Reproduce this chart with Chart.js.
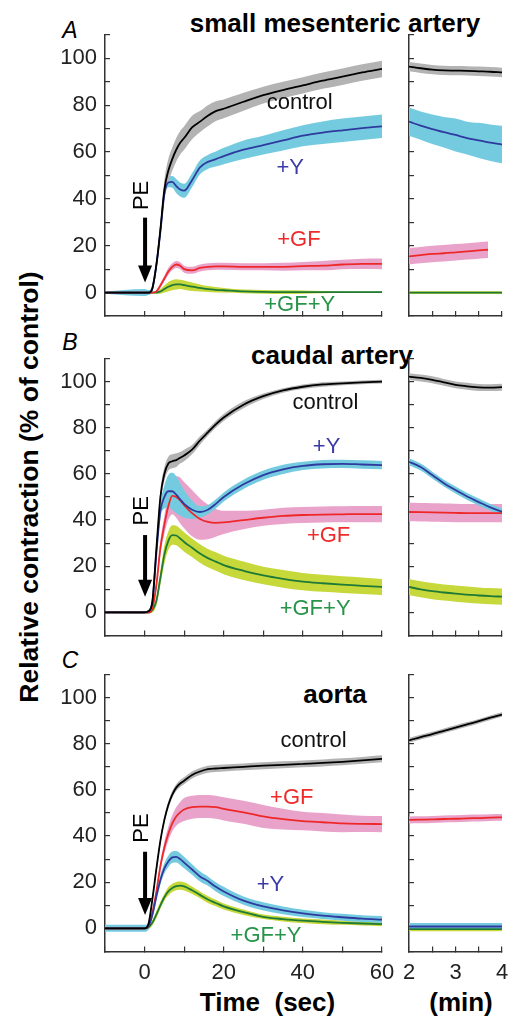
<!DOCTYPE html>
<html lang="en">
<head>
<meta charset="UTF-8">
<title>Relative contraction after PE</title>
<script src="https://cdn.jsdelivr.net/npm/chart.js"></script>
<style>
  body { margin: 0; background: #fff; font-family: "Liberation Sans", Arial, sans-serif; }
  #fig { position: relative; width: 510px; height: 1020px; overflow: hidden; }
  #fig canvas { position: absolute; }
  .txt { position: absolute; white-space: pre; color: #000; line-height: 1; transform: translate(-50%, -50%); }
  .ttl { font-weight: bold; font-size: 26px; }
  .pl { font-style: italic; font-size: 23px; }
</style>
</head>
<body>
<div id="fig">
  <div class="txt ttl" style="left:335px;top:22.5px">small mesenteric artery</div>
  <div class="txt ttl" style="left:332px;top:355px">caudal artery</div>
  <div class="txt ttl" style="left:335px;top:694px">aorta</div>
  <div class="txt pl" style="left:70px;top:30px">A</div>
  <div class="txt pl" style="left:70px;top:341.5px">B</div>
  <div class="txt pl" style="left:70px;top:659.5px">C</div>
  <div class="txt ttl" style="left:28.5px;top:487px;font-size:26.5px;transform:translate(-50%,-50%) rotate(-90deg)">Relative contraction (% of control)</div>
  <div class="txt ttl" style="left:267.5px;top:1001.5px">Time  (sec)</div>
  <div class="txt ttl" style="left:461px;top:1001.5px">(min)</div>

  <canvas id="aL" width="410" height="321" style="left:0;top:15px"></canvas>
  <canvas id="aR" width="140" height="321" style="left:385px;top:15px"></canvas>
  <canvas id="bL" width="410" height="316" style="left:0;top:339px"></canvas>
  <canvas id="bR" width="140" height="316" style="left:385px;top:339px"></canvas>
  <canvas id="cL" width="410" height="346" style="left:0;top:655px"></canvas>
  <canvas id="cR" width="140" height="346" style="left:385px;top:655px"></canvas>
</div>

<script>
// time axes
const tSec = [-10, 0, 1, 2, 3, 4, 5, 6, 7, 8, 9, 10, 12, 14, 16, 18, 20, 25, 30, 35, 40, 45, 50, 55, 60];
const tMin = [2, 2.25, 2.5, 2.75, 3, 3.25, 3.5, 3.75, 4];
const tMinAGF = [2, 2.25, 2.5, 2.75, 3, 3.25, 3.5, 3.7];

// A: small mesenteric artery (mean and SEM, % of control)
const aCtrl = [0, 0, 0, 2, 12, 27, 44, 52, 57, 61, 64, 66, 70.5, 73, 75.5, 77.5, 78.5, 81.5, 84.3, 86.5, 88.5, 90.5, 92.2, 94, 95.5];
const aCtrlSem = [0.3, 0.3, 0.5, 1, 2, 3, 4, 5, 5, 5, 5, 5, 5, 4.5, 4.5, 4.2, 4, 3.8, 3.6, 3.5, 3.5, 3.5, 3.5, 3.5, 3.5];
const aY = [0, 0, 0, 2, 12, 26, 42, 47, 47.3, 45.5, 44, 43.5, 48, 53.5, 55.8, 57, 58.3, 61, 63, 65, 67, 68.3, 69.3, 70.2, 71];
const aYSem = [0.5, 1.5, 1, 1.5, 2, 2, 2, 2, 2.5, 3, 3, 3, 3, 3, 3, 3.2, 3.5, 4, 4, 4.3, 4.5, 4.8, 5, 5, 5];
const aGF = [0, 0, 0, 0, 0.5, 3, 6, 9, 11, 12, 11.5, 10, 9.5, 10.5, 11, 11.2, 11.2, 11, 11, 11, 11.3, 11.5, 12, 12.3, 12.3];
const aGFSem = [0.3, 0.5, 0.3, 0.3, 0.5, 1, 1.2, 1.5, 1.5, 1.5, 1.5, 1.5, 1.5, 1.5, 1.5, 1.5, 1.5, 1.5, 1.5, 1.7, 1.8, 2, 2, 2.2, 2.3];
const aGY = [0, 0, 0, 0, 0, 0.5, 1.5, 2.5, 3.2, 3.5, 3.5, 3.2, 2.5, 2, 1.5, 1.2, 1, 0.5, 0.3, 0.2, 0.2, 0.2, 0.2, 0.2, 0.2];
const aGYSem = [0.3, 0.5, 0.3, 0.3, 0.5, 1, 1.5, 2, 2.2, 2.2, 2, 2, 1.8, 1.5, 1.3, 1.2, 1, 0.8, 0.8, 0.8, 0.7, 0.5, 0.4, 0.3, 0.3];
const aCtrlR = [96.5, 95.8, 95.2, 94.9, 94.8, 94.7, 94.5, 94.3, 94];
const aYR = [73, 71.3, 69.8, 68.5, 67.3, 66, 65, 64, 63.2];
const aYRSem = [6, 6, 6.3, 6.5, 7, 7, 7.5, 7.8, 8];
const aGFR = [15.5, 16, 16.5, 16.8, 17.2, 17.6, 18, 18.3];
const aGYR = [0, 0, 0, 0, 0, 0, 0, 0, 0];

// B: caudal artery
const bCtrl = [0, 0, 0.5, 5, 28, 50, 60, 64.5, 65.5, 66, 67, 68, 70.5, 74.5, 78, 81.5, 84.5, 90, 93.7, 96.2, 97.8, 98.8, 99.3, 99.7, 100];
const bCtrlSem = [0.3, 0.5, 0.5, 1, 2, 3, 3, 3, 3, 3, 2.5, 2.5, 2, 1.8, 1.5, 1.5, 1.5, 1.5, 1.2, 1, 1, 1, 0.8, 0.8, 0.8];
const bY = [0, 0, 0.5, 5, 26, 44, 50, 52.5, 52.5, 51, 49, 47, 44.5, 43.5, 44.5, 47, 50, 55.5, 59.5, 62, 63.5, 64.2, 64.4, 64.1, 63.8];
const bYSem = [0.3, 0.5, 0.5, 1, 2, 3, 5, 7, 8, 8, 7, 6, 4, 2.5, 2, 2, 2, 2, 2, 2, 1.8, 1.8, 1.8, 1.8, 1.8];
const bGF = [0, 0, 0, 2, 12, 28, 38, 46, 50.5, 50, 48.5, 46.5, 43, 40.5, 39.2, 38.8, 39, 40, 41, 41.8, 42.2, 42.4, 42.5, 42.6, 42.6];
const bGFSem = [0.3, 0.5, 0.5, 1, 2, 3, 4, 6, 8, 9, 10, 10, 10, 9, 7.5, 6, 5, 4, 3.5, 3.5, 3.5, 3.5, 3.5, 3.5, 3.5];
const bGY = [0, 0, 0, 1, 5, 15, 25, 31, 33.5, 33.3, 32, 30.5, 28, 25.5, 23.5, 22, 20.5, 18, 16, 14.5, 13.3, 12.6, 12, 11.5, 11];
const bGYSem = [0.3, 0.5, 0.5, 1, 2, 3, 4, 4, 4.2, 4.2, 4.2, 4.2, 4, 4, 4, 4, 4, 4, 3.8, 3.8, 3.7, 3.7, 3.6, 3.6, 3.5];
const bCtrlR = [102.2, 101.6, 100.8, 99.7, 98.6, 98, 97.5, 97.4, 97.6];
const bYR = [65.3, 63, 59.5, 56, 53, 50.2, 47.8, 45.5, 43.6];
const bGFR = [43.5, 43.4, 43.3, 43.2, 43.1, 43, 43, 43, 43];
const bGYR = [11, 10, 9.2, 8.6, 8.1, 7.7, 7.3, 7, 6.8];

// C: aorta
const cCtrl = [0, 0, 2, 13, 26, 38, 47, 53.5, 58, 61, 62.8, 64, 66.5, 68, 69, 69.3, 69.5, 70, 70.5, 70.9, 71.3, 71.7, 72.2, 72.8, 73.5];
const cCtrlSem = [0.5, 0.5, 1, 1.5, 1.5, 1.5, 1.5, 1.5, 1.5, 1.5, 1.5, 1.5, 1.5, 1.5, 1.5, 1.5, 1.5, 1.5, 1.5, 1.5, 1.5, 1.5, 1.5, 1.5, 1.5];
const cGF = [0, 0, 1, 7, 16, 27, 35, 41, 45.5, 48.5, 50.3, 51.5, 52.5, 52.8, 52.8, 52.5, 51.8, 50.3, 48.5, 47.3, 46.5, 46, 45.5, 45.3, 45.2];
const cGFSem = [0.3, 0.5, 0.5, 1, 1.5, 2, 2.5, 3, 3.5, 4, 4.5, 5, 5, 5, 5, 5, 5, 5, 5, 4.5, 4, 4, 3.8, 3.5, 3.5];
const cY = [0, 0, 1, 6, 14, 21, 26, 29, 30.8, 31, 30, 28.5, 25.5, 22.5, 20.5, 18, 16, 12, 9.5, 7.8, 6.5, 5.5, 4.8, 4.2, 3.8];
const cYSem = [1.5, 1.5, 1.5, 1.5, 2, 2, 2.2, 2.5, 2.5, 2.5, 2.5, 2.5, 2.3, 2.2, 2, 2, 2, 1.8, 1.8, 1.7, 1.6, 1.5, 1.5, 1.5, 1.5];
const cGY = [0, 0, 0.5, 2.5, 6, 10, 13.5, 16, 17.5, 18.3, 18.5, 18.2, 16.5, 14.5, 12.5, 11, 9.5, 7, 5, 4, 3.3, 2.8, 2.4, 2.1, 1.8];
const cGYSem = [0.8, 1, 1, 1.2, 1.5, 1.5, 1.5, 1.8, 1.8, 1.8, 1.8, 1.8, 1.6, 1.5, 1.5, 1.4, 1.3, 1.2, 1, 1, 1, 1, 0.9, 0.9, 0.9];
const cCtrlR = [81.5, 82.9, 84.2, 85.6, 87, 88.4, 89.8, 91.3, 92.7];
const cGFR = [47, 47.1, 47.2, 47.4, 47.5, 47.7, 47.8, 48, 48.1];
const cYR = [0.8, 0.8, 0.8, 0.8, 0.8, 0.8, 0.8, 0.8, 0.8];
const cGYR = [-0.3, -0.3, -0.3, -0.3, -0.3, -0.3, -0.3, -0.3, -0.3];

const yTicks = { min: -10, max: 110, step: 10 };

const COL = {
  ctrl: { line: '#000000', band: '#b3b3b3', text: '#111111' },
  y:    { line: '#2f3a9e', band: '#74cbe0', text: '#3b3ba6' },
  gf:   { line: '#ee2828', band: '#e9a3cb', text: '#ee2b2b' },
  gy:   { line: '#1e7a36', band: '#c6d83a', text: '#28944a' }
};

Chart.defaults.font.family = '"Liberation Sans", Arial, sans-serif';
Chart.defaults.color = '#222';

const notesPlugin = {
  id: 'notes',
  afterDatasetsDraw(chart, args, opts) {
    const ctx = chart.ctx, x = chart.scales.x, y = chart.scales.y;
    ctx.save();
    ctx.font = '22px "Liberation Sans", Arial, sans-serif';
    ctx.textAlign = 'center';
    ctx.textBaseline = 'middle';
    (opts.labels || []).forEach(l => {
      ctx.fillStyle = l.color;
      ctx.fillText(l.text, x.getPixelForValue(l.x), y.getPixelForValue(l.y));
    });
    if (opts.arrow) {
      const a = opts.arrow;
      const ax = x.getPixelForValue(0) + 0.5;
      const y1 = y.getPixelForValue(a.from), y2 = y.getPixelForValue(a.to);
      ctx.strokeStyle = '#000';
      ctx.fillStyle = '#000';
      ctx.lineWidth = 4;
      ctx.beginPath(); ctx.moveTo(ax, y1); ctx.lineTo(ax, y2 - 14); ctx.stroke();
      ctx.beginPath(); ctx.moveTo(ax - 7, y2 - 17); ctx.lineTo(ax + 7, y2 - 17); ctx.lineTo(ax, y2); ctx.closePath(); ctx.fill();
      ctx.translate(x.getPixelForValue(-0.65), y.getPixelForValue(a.text));
      ctx.rotate(-Math.PI / 2);
      ctx.fillText('PE', 0, 0);
    }
    ctx.restore();
  }
};

function semAt(sem, i) { return Array.isArray(sem) ? sem[i] : sem; }

function buildSets(series) {
  const bands = [], lines = [];
  series.forEach(s => {
    const up = s.t.map((t, i) => ({ x: t, y: s.v[i] + semAt(s.sem, i) }));
    const lo = s.t.map((t, i) => ({ x: t, y: s.v[i] - semAt(s.sem, i) }));
    bands.push({ data: up, borderWidth: 0, pointRadius: 0, fill: false, order: 2, cubicInterpolationMode: 'monotone' });
    bands.push({ data: lo, borderWidth: 0, pointRadius: 0, fill: '-1', backgroundColor: s.c.band, order: 2, cubicInterpolationMode: 'monotone' });
    lines.push({ data: s.t.map((t, i) => ({ x: t, y: s.v[i] })), borderColor: s.c.line, borderWidth: 1.8,
                 pointRadius: 0, fill: false, order: 1, cubicInterpolationMode: 'monotone' });
  });
  return bands.concat(lines);
}

function makeChart(id, opt) {
  const axisStyle = {
    border: { display: true, color: '#333', width: 1.5 },
    grid: { display: true, drawOnChartArea: false, drawTicks: true, tickLength: -5, color: '#333', lineWidth: 1.2 }
  };
  const canvas = document.getElementById(id);
  const H = canvas.height;
  let padTop = opt.box.top, padRight = canvas.width - opt.box.right;
  const chart = new Chart(canvas, {
    type: 'line',
    data: { datasets: buildSets(opt.series) },
    plugins: [notesPlugin],
    options: {
      responsive: false,
      animation: false,
      devicePixelRatio: 1,
      layout: { padding: { top: padTop, right: padRight, left: 0, bottom: 0 } },
      plugins: { legend: { display: false }, tooltip: { enabled: false }, notes: { labels: opt.labels, arrow: opt.arrow } },
      scales: {
        x: Object.assign({
          type: 'linear', min: opt.xMin, max: opt.xMax,
          afterFit: s => { s.height = opt.xHeight; },
          ticks: { display: opt.xLabels, stepSize: opt.xStep, autoSkip: false, padding: 13,
                   font: { size: 22 }, color: '#222', callback: opt.xFmt }
        }, axisStyle),
        y: Object.assign({
          type: 'linear', min: yTicks.min, max: yTicks.max,
          afterFit: s => { s.width = opt.yWidth; },
          ticks: { display: opt.yLabels, stepSize: yTicks.step, autoSkip: false, padding: 13,
                   font: { size: 22, lineHeight: 0.1 }, color: '#222',
                   callback: v => (v >= 0 && v <= 100 && v % 20 === 0) ? v : '' }
        }, axisStyle)
      }
    }
  });
  // nudge the layout so the plot box sits where the figure has it
  for (let k = 0; k < 4; k++) {
    const a = chart.chartArea;
    const dT = opt.box.top - a.top, dB = a.bottom - (H - opt.box.bottom);
    const dL = opt.box.left - a.left, dR = a.right - opt.box.right;
    if (Math.abs(dT) + Math.abs(dB) + Math.abs(dL) + Math.abs(dR) < 0.3) break;
    padTop += dT; padRight += dR; opt.xHeight += dB; opt.yWidth += dL;
    chart.options.layout.padding = { top: padTop, right: padRight, left: 0, bottom: 0 };
    chart.update();
  }
}

const fmtSec = v => (v >= 0 && v % 20 === 0) ? v : '';
const fmtMin = v => Number.isInteger(v) ? v : '';

// box: plot area inside canvas (bottom = distance from canvas bottom)
function leftOpts(series, labels, arrow, showX, box) {
  return { series, labels, arrow, xMin: -10, xMax: 60, xStep: 10, xFmt: fmtSec, xLabels: showX,
           xHeight: box.bottom, yWidth: 105, yLabels: true,
           box: { top: box.top, bottom: box.bottom, left: 105, right: 382 } };
}
function rightOpts(series, showX, box) {
  return { series, labels: [], arrow: null, xMin: 2, xMax: 4, xStep: 0.5, xFmt: fmtMin, xLabels: showX,
           xHeight: box.bottom, yWidth: 24, yLabels: false,
           box: { top: box.top, bottom: box.bottom, left: 24, right: 117 } };
}

const boxA = { top: 20, bottom: 20 };
const boxB = { top: 19.6, bottom: 19.6 };
const boxC = { top: 19.6, bottom: 49.6 };

makeChart('aL', leftOpts([
  { t: tSec, v: aCtrl, sem: aCtrlSem, c: COL.ctrl },
  { t: tSec, v: aY, sem: aYSem, c: COL.y },
  { t: tSec, v: aGF, sem: aGFSem, c: COL.gf },
  { t: tSec, v: aGY, sem: aGYSem, c: COL.gy }
], [
  { text: 'control', x: 39.2, y: 81, color: COL.ctrl.text },
  { text: '+Y', x: 36.8, y: 53.2, color: COL.y.text },
  { text: '+GF', x: 39, y: 22.5, color: COL.gf.text },
  { text: '+GF+Y', x: 39.2, y: -5.2, color: COL.gy.text }
], { text: 41.5, from: 32, to: 4.3 }, false, boxA));

makeChart('aR', rightOpts([
  { t: tMin, v: aCtrlR, sem: 2, c: COL.ctrl },
  { t: tMin, v: aYR, sem: aYRSem, c: COL.y },
  { t: tMinAGF, v: aGFR, sem: 3.5, c: COL.gf },
  { t: tMin, v: aGYR, sem: 0.6, c: COL.gy }
], false, boxA));

makeChart('bL', leftOpts([
  { t: tSec, v: bCtrl, sem: bCtrlSem, c: COL.ctrl },
  { t: tSec, v: bY, sem: bYSem, c: COL.y },
  { t: tSec, v: bGF, sem: bGFSem, c: COL.gf },
  { t: tSec, v: bGY, sem: bGYSem, c: COL.gy }
], [
  { text: 'control', x: 45.7, y: 90.6, color: COL.ctrl.text },
  { text: '+Y', x: 46, y: 71.6, color: COL.y.text },
  { text: '+GF', x: 46.5, y: 33.2, color: COL.gf.text },
  { text: '+GF+Y', x: 43.1, y: 1.6, color: COL.gy.text }
], { text: 44, from: 33.5, to: 6.8 }, false, boxB));

makeChart('bR', rightOpts([
  { t: tMin, v: bCtrlR, sem: 1.5, c: COL.ctrl },
  { t: tMin, v: bYR, sem: 1.5, c: COL.y },
  { t: tMin, v: bGFR, sem: 4, c: COL.gf },
  { t: tMin, v: bGYR, sem: 3.5, c: COL.gy }
], false, boxB));

makeChart('cL', leftOpts([
  { t: tSec, v: cCtrl, sem: cCtrlSem, c: COL.ctrl },
  { t: tSec, v: cY, sem: cYSem, c: COL.y },
  { t: tSec, v: cGF, sem: cGFSem, c: COL.gf },
  { t: tSec, v: cGY, sem: cGYSem, c: COL.gy }
], [
  { text: 'control', x: 42.7, y: 81.3, color: COL.ctrl.text },
  { text: '+GF', x: 37.2, y: 56.7, color: COL.gf.text },
  { text: '+Y', x: 31.8, y: 18.6, color: COL.y.text },
  { text: '+GF+Y', x: 30.7, y: -3.2, color: COL.gy.text }
], { text: 43.5, from: 33.2, to: 5.8 }, true, boxC));

makeChart('cR', rightOpts([
  { t: tMin, v: cCtrlR, sem: 1, c: COL.ctrl },
  { t: tMin, v: cYR, sem: 1.5, c: COL.y },
  { t: tMin, v: cGFR, sem: 1.5, c: COL.gf },
  { t: tMin, v: cGYR, sem: 1, c: COL.gy }
], true, boxC));
</script>
</body>
</html>
